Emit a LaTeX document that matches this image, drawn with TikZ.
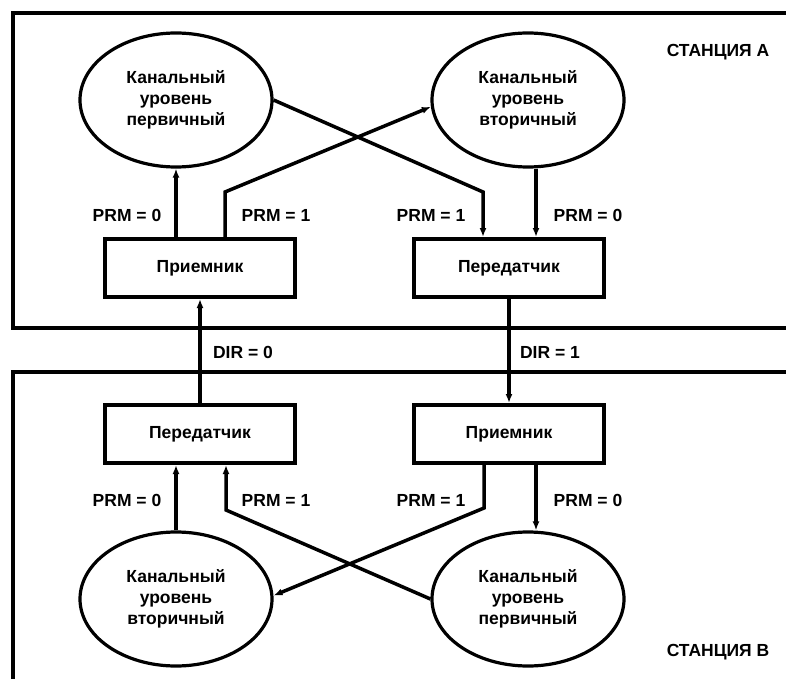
\documentclass[tikz,border=0pt]{standalone}
\usepackage{fontspec}
\setmainfont{Liberation Sans}
\usetikzlibrary{arrows.meta,shapes.geometric}
\begin{document}
\begin{tikzpicture}[x=1pt,y=-1pt,
  every node/.style={font=\fontsize{17.5}{21}\selectfont\bfseries},
  frame/.style={line width=3.5pt},
  oval/.style={ellipse,draw,line width=3.2pt,minimum width=192pt,minimum height=134pt,inner sep=0pt,align=center},
  blk/.style={rectangle,draw,line width=4pt,minimum width=190pt,minimum height=58pt,inner sep=0pt},
  conn/.style={line width=3.5pt},
  arr/.style={conn,-{Latex[length=9pt,width=7pt]}},
  lbl/.style={inner sep=0pt}]
\useasboundingbox (0,0) rectangle (786,679);
% station frames
\draw[frame] (786,13) -- (13,13) -- (13,328) -- (786,328);
\draw[frame] (786,372) -- (13,372) -- (13,679);
% station A
\node[oval] (a1) at (176,100) {Канальный\\уровень\\первичный};
\node[oval] (a2) at (528,100) {Канальный\\уровень\\вторичный};
\node[blk] (rxA) at (200,268) {Приемник};
\node[blk] (txA) at (509,268) {Передатчик};
\node[lbl] (stA) at (718,52) {СТАНЦИЯ А};
% station B
\node[blk] (txB) at (200,434) {Передатчик};
\node[blk] (rxB) at (509,434) {Приемник};
\node[oval] (b1) at (176,599) {Канальный\\уровень\\вторичный};
\node[oval] (b2) at (528,599) {Канальный\\уровень\\первичный};
\node[lbl] (stB) at (718,652) {СТАНЦИЯ В};
% connectors station A
\draw[arr] ([xshift=-24pt]rxA.north) -- (a1.south);
\draw[arr] ([xshift=25pt]rxA.north) -- ([xshift=25pt,yshift=45pt]rxA.north) -- (a2.184);
\draw[arr] (a1.east) -- ([xshift=-26pt,yshift=45pt]txA.north) -- ([xshift=-26pt]txA.north);
\draw[arr] ([xshift=8pt]a2.south) -- ([xshift=27pt]txA.north);
% between stations
\draw[arr] (txB.north) -- (rxA.south);
\draw[arr] (txA.south) -- (rxB.north);
% connectors station B
\draw[arr] (b1.north) -- ([xshift=-24pt]txB.south);
\draw[arr] (b2.west) -- ([xshift=26pt,yshift=-45pt]txB.south) -- ([xshift=26pt]txB.south);
\draw[arr] ([xshift=-25pt]rxB.south) -- ([xshift=-25pt,yshift=-43pt]rxB.south) -- (b1.2);
\draw[arr] ([xshift=27pt]rxB.south) -- ([xshift=8pt]b2.north);
% labels
\node[lbl] (l1) at (127,215) {PRM = 0};
\node[lbl] (l2) at (276,215) {PRM = 1};
\node[lbl] (l3) at (431,215) {PRM = 1};
\node[lbl] (l4) at (588,215) {PRM = 0};
\node[lbl] (l5) at (127,500) {PRM = 0};
\node[lbl] (l6) at (276,500) {PRM = 1};
\node[lbl] (l7) at (431,500) {PRM = 1};
\node[lbl] (l8) at (588,500) {PRM = 0};
\node[lbl] (d0) at (243,352) {DIR = 0};
\node[lbl] (d1) at (550,352) {DIR = 1};
\end{tikzpicture}
\end{document}
